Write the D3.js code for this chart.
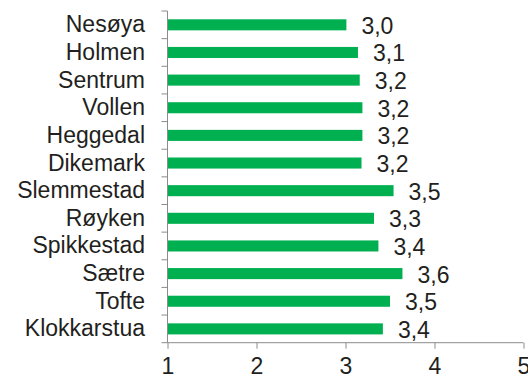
<!DOCTYPE html>
<html>
<head>
<meta charset="utf-8">
<script src="https://cdn.jsdelivr.net/npm/d3@7"></script>
<style>
  html, body { margin: 0; padding: 0; background: #fff; }
  svg { display: block; }
  text { font-family: "Liberation Sans", Arial, sans-serif; fill: #231f20; }
</style>
</head>
<body>
<svg id="chart" width="528" height="380"></svg>
<script>
// Places listed top to bottom, with their average scores
const places = ["Nesøya", "Holmen", "Sentrum", "Vollen", "Heggedal", "Dikemark",
                "Slemmestad", "Røyken", "Spikkestad", "Sætre", "Tofte", "Klokkarstua"];
const scores = [3.01, 3.14, 3.16, 3.19, 3.19, 3.18, 3.54, 3.32, 3.37, 3.64, 3.5, 3.42];
const xTicks = [1, 2, 3, 4, 5];

const svg = d3.select("#chart");
const fontSize = 23;
const axisColor = "#8c8c8c";
const barColor = "#00b050";

const x = d3.scaleLinear().domain([1, 5]).range([167.5, 523.5]);
const y = d3.scaleBand().domain(places).range([11, 342.7])
  .paddingInner(0.6).paddingOuter(0.3);

const rows = places.map((p, i) => ({ place: p, score: scores[i] }));
const fmt = v => d3.format(".1f")(v).replace(".", ",");

// Bars
svg.append("g").selectAll("rect").data(rows).join("rect")
  .attr("x", x(1))
  .attr("y", d => y(d.place))
  .attr("width", d => x(d.score) - x(1))
  .attr("height", y.bandwidth())
  .attr("fill", barColor);

// Value labels
svg.append("g").selectAll("text").data(rows).join("text")
  .attr("x", d => x(d.score) + 15)
  .attr("y", d => y(d.place) + y.bandwidth() / 2 + 9)
  .attr("font-size", fontSize)
  .text(d => fmt(d.score));

// Category labels
svg.append("g").selectAll("text").data(rows).join("text")
  .attr("x", 145)
  .attr("y", d => y(d.place) + y.bandwidth() / 2 + 7.5)
  .attr("text-anchor", "end")
  .attr("font-size", fontSize)
  .text(d => d.place);

// Category axis: line with ticks at band boundaries
const [y0, y1] = y.range();
const step = y.step();
const bounds = d3.range(places.length + 1).map(i => y0 + i * step);
const yAxis = svg.append("g").attr("stroke", axisColor).attr("stroke-width", 1);
yAxis.append("line").attr("x1", x(1)).attr("x2", x(1)).attr("y1", y0).attr("y2", y1);
yAxis.selectAll("line.tick").data(bounds).join("line").attr("class", "tick")
  .attr("x1", x(1) - 6).attr("x2", x(1)).attr("y1", d => d).attr("y2", d => d);

// Value axis along the bottom
const xAxis = svg.append("g")
  .attr("transform", `translate(0,${y1})`)
  .call(d3.axisBottom(x).tickValues(xTicks).tickSize(6).tickPadding(9)
    .tickFormat(d3.format("d")));
xAxis.select(".domain").attr("stroke", axisColor).attr("d", `M${x(1)},0H${x(5)}`);
xAxis.selectAll(".tick line").attr("stroke", axisColor);
xAxis.selectAll(".tick text")
  .attr("font-size", fontSize)
  .attr("font-family", "Liberation Sans, Arial, sans-serif")
  .attr("fill", "#231f20");
</script>
</body>
</html>
